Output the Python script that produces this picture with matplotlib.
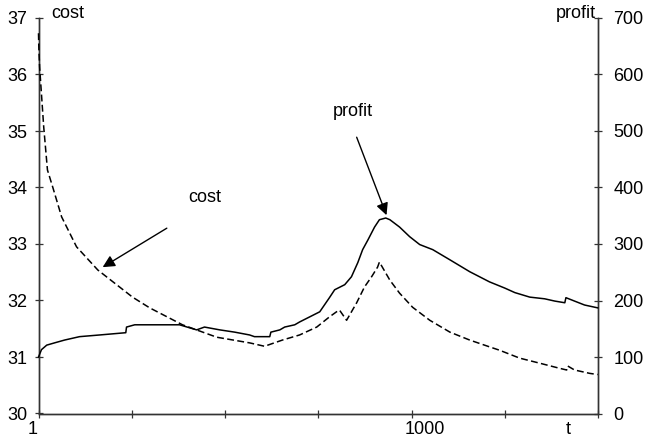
import matplotlib
matplotlib.use("Agg")
import matplotlib.pyplot as plt

plt.rcParams['font.family'] = ['Liberation Sans', 'DejaVu Sans']

# cost series (dashed, left axis)
cost_t = [1, 2, 4, 15, 25, 39, 63, 103, 160, 253, 299,
          387, 479, 567, 607, 655, 701, 747, 781, 800, 808,
          827, 854, 875, 894, 910, 915, 943, 969, 1004, 1050,
          1104, 1157, 1210, 1237, 1291, 1345, 1398, 1417, 1420, 1438,
          1479, 1500]
cost_v = [36.73, 36.45, 36.13, 35.07, 34.31, 34.01, 33.48, 32.95, 32.54, 32.06, 31.87,
          31.57, 31.35, 31.25, 31.19, 31.30, 31.39, 31.53, 31.71, 31.80, 31.83,
          31.65, 31.96, 32.24, 32.42, 32.59, 32.68, 32.36, 32.13, 31.88, 31.65,
          31.44, 31.30, 31.18, 31.12, 30.98, 30.89, 30.80, 30.77, 30.84, 30.77,
          30.71, 30.69]

# profit series (solid, right axis)
profit_t = [1, 9, 23, 44, 71, 111, 165, 235, 237, 259,
            379, 425, 446, 487, 527, 567, 580, 621, 624, 648,
            661, 688, 701, 728, 755, 781, 795, 822, 840, 857,
            870, 884, 902, 915, 932, 943, 969, 996, 1023, 1058,
            1104, 1157, 1210, 1251, 1278, 1318, 1358, 1385, 1412, 1415,
            1438, 1465, 1500]
profit_v = [100, 113, 121, 125, 130, 136, 139, 143, 153, 157,
            157, 148, 153, 148, 144, 139, 136, 136, 144, 148,
            153, 157, 162, 171, 180, 205, 219, 228, 242, 267,
            290, 307, 330, 343, 346, 343, 330, 313, 299, 290,
            272, 251, 233, 222, 214, 206, 203, 199, 196, 205,
            199, 192, 187]

cost_ticks = [30, 31, 32, 33, 34, 35, 36, 37]
profit_ticks = [0, 100, 200, 300, 400, 500, 600, 700]
t_ticks = [1, 251, 501, 751, 1001, 1251, 1501]

FS = 13

fig = plt.figure(figsize=(6.48, 4.41), dpi=100)
ax = fig.add_axes([38.5 / 648, 27.5 / 441, (598 - 38.5) / 648, (413.5 - 18) / 441])
ax2 = ax.twinx()

ax2.plot(cost_t, [(c - 30) * 100 for c in cost_v], color='black', lw=1.1,
         linestyle=(0, (4.5, 2.2)), zorder=3, clip_on=False)
ax2.plot(profit_t, profit_v, color='black', lw=1.1, zorder=3, clip_on=False)

ax.set_xlim(1, 1501)
ax.set_ylim(30, 37)
ax2.set_ylim(0, 700)

ax.set_yticks(cost_ticks)
ax.set_yticklabels([str(v) for v in cost_ticks], fontsize=FS)
ax2.set_yticks(profit_ticks)
ax2.set_yticklabels([str(v) for v in profit_ticks], fontsize=FS)
ax.set_xticks(t_ticks)
ax.set_xticklabels([''] * len(t_ticks))

for a in (ax, ax2):
    a.spines['top'].set_visible(False)
    for s in ('left', 'right', 'bottom'):
        a.spines[s].set_color('#333333')
        a.spines[s].set_linewidth(1.0)
ax.tick_params(axis='both', direction='inout', length=6, width=0.9, color='#333333', pad=5)
ax2.tick_params(axis='y', direction='inout', length=6, width=0.9, color='#333333', pad=8)

# x labels
fig.text(33 / 648, 1 - 430 / 441, '1', fontsize=FS, ha='center', va='center')
fig.text(425 / 648, 1 - 430 / 441, '1000', fontsize=FS, ha='center', va='center')
fig.text(568 / 648, 1 - 430 / 441, 't', fontsize=FS, ha='center', va='center')
fig.text(51 / 648, 1 - 13 / 441, 'cost', fontsize=FS, ha='left', va='center')
fig.text(596 / 648, 1 - 13 / 441, 'profit', fontsize=FS, ha='right', va='center')

# annotations
ax.annotate('', xy=(173, 32.59), xytext=(345, 33.28),
            arrowprops=dict(arrowstyle='-|>', color='black', lw=1.0,
                            mutation_scale=18, shrinkA=0, shrinkB=0))
ax.text(446, 33.83, 'cost', fontsize=FS, ha='center', va='center')
ax.annotate('', xy=(934, 33.51), xytext=(854, 34.89),
            arrowprops=dict(arrowstyle='-|>', color='black', lw=1.0,
                            mutation_scale=18, shrinkA=0, shrinkB=0))
ax.text(843, 35.34, 'profit', fontsize=FS, ha='center', va='center')

fig.savefig('out.png', dpi=100)
